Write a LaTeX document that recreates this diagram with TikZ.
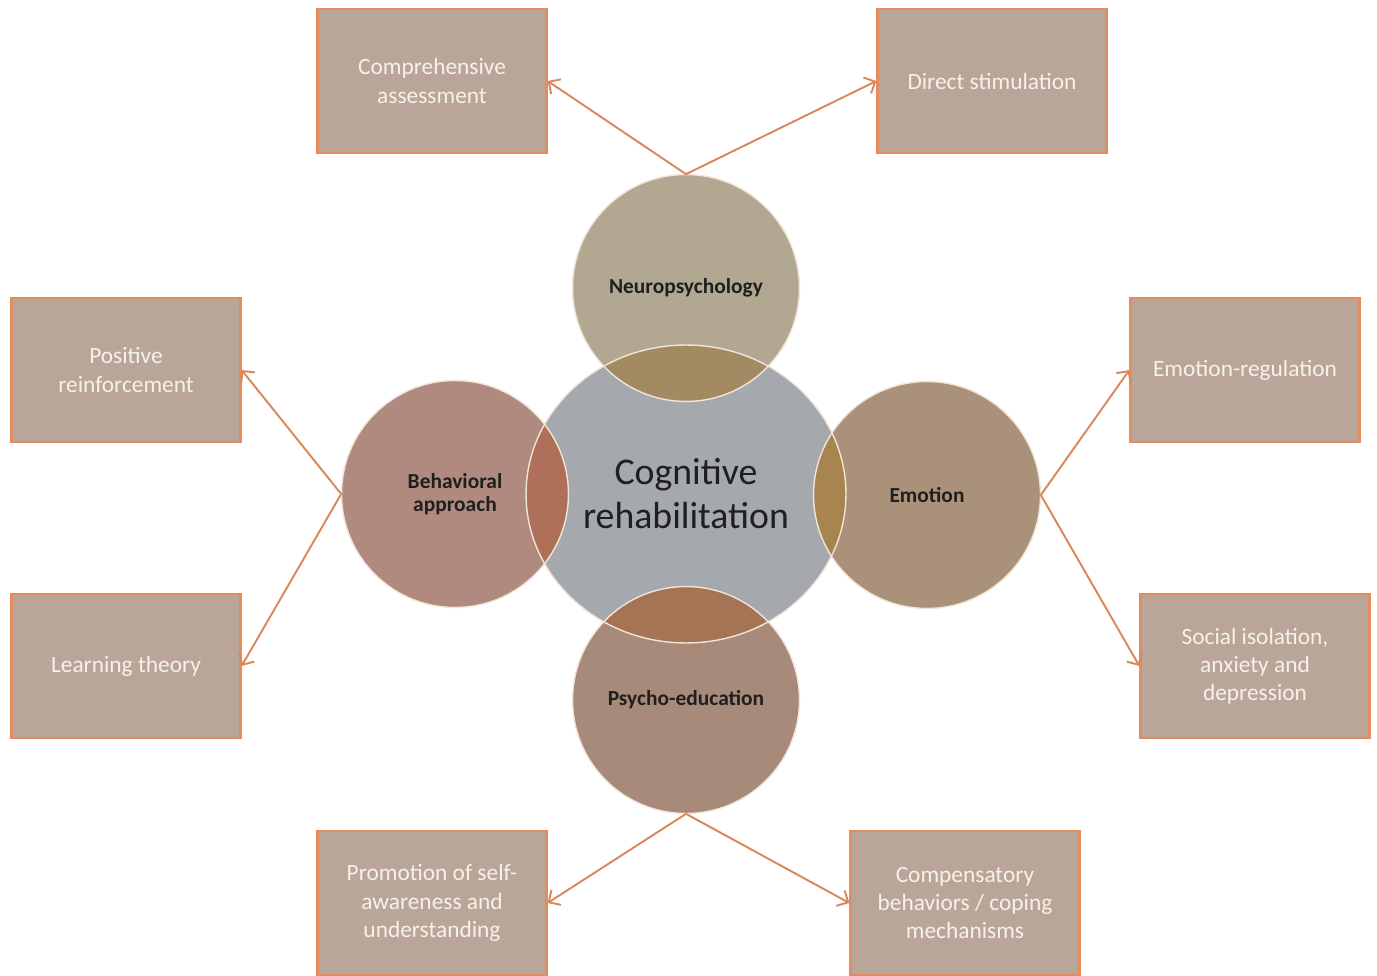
\documentclass[tikz,border=0pt]{standalone}
\usepackage{fontspec}
\setmainfont{Carlito}
\usetikzlibrary{positioning, arrows.meta, shapes.geometric}

\definecolor{boxfill}{HTML}{B9A698}
\definecolor{boxedge}{HTML}{E28C5F}
\definecolor{linkcol}{HTML}{DA875A}
\definecolor{leaftext}{HTML}{F7F1EC}
\definecolor{corecol}{HTML}{A5A8AD}
\definecolor{neurocol}{HTML}{B2A892}
\definecolor{neurolens}{HTML}{A38A62}
\definecolor{behavcol}{HTML}{B08A7E}
\definecolor{behavlens}{HTML}{AE7058}
\definecolor{emocol}{HTML}{AA927A}
\definecolor{emolens}{HTML}{A8844F}
\definecolor{psychcol}{HTML}{A88A7A}
\definecolor{psychlens}{HTML}{A57455}
\definecolor{ringcol}{HTML}{F2E4D8}

\begin{document}
\begin{tikzpicture}[x=0.02cm, y=-0.02cm]
  \tikzstyle{leaf}=[draw=boxedge, line width=1.3pt, fill=boxfill, minimum width=4.58cm, minimum height=2.88cm, align=center, text=leaftext, font=\fontsize{13.3}{16}\selectfont]
  \tikzstyle{topic}=[circle, minimum size=4.54cm, inner sep=0, align=center, text=black!88, font=\bfseries\fontsize{12.2}{13}\selectfont]
  \tikzstyle{ring}=[draw=ringcol, line width=0.8pt]
  \tikzstyle{link}=[draw=linkcol, line width=1.1pt, -{Straight Barb[length=5pt, width=10pt]}]

  \useasboundingbox (0, 0) rectangle (1377, 976);

  % centre and the four topics
  \node [ellipse, fill=corecol, minimum width=6.4cm, minimum height=5.96cm, inner sep=0, align=center, text=black!88, font=\fontsize{21.5}{25}\selectfont] (core) at (686, 494) {Cognitive\\rehabilitation};
  \node [topic, fill=neurocol] (neuro) at (686, 288) {Neuropsychology};
  \node [topic, fill=behavcol] (behav) at (455, 494) {Behavioral\\approach};
  \node [topic, fill=emocol] (emo) at (927, 495) {Emotion};
  \node [topic, fill=psychcol] (psych) at (686, 700) {Psycho-education};

  % overlaps with the centre
  \begin{scope}
    \clip (core.center) ellipse [x radius=3.2cm, y radius=2.98cm];
    \fill [neurolens] (neuro.center) circle [radius=2.27cm];
    \fill [behavlens] (behav.center) circle [radius=2.27cm];
    \fill [emolens] (emo.center) circle [radius=2.27cm];
    \fill [psychlens] (psych.center) circle [radius=2.27cm];
  \end{scope}
  \draw [ring] (core.center) ellipse [x radius=3.2cm, y radius=2.98cm];
  \foreach \t in {neuro, behav, emo, psych}
    \draw [ring] (\t.center) circle [radius=2.27cm];

  % outer boxes
  \node [leaf] (assess) at (432, 81) {Comprehensive\\assessment};
  \node [leaf] (stim) at (992, 81) {Direct stimulation};
  \node [leaf] (reinf) at (126, 370) {Positive\\reinforcement};
  \node [leaf] (learn) at (126, 666) {Learning theory};
  \node [leaf] (emoreg) at (1245, 370) {Emotion-regulation};
  \node [leaf] (social) at (1255, 666) {Social isolation,\\anxiety and\\depression};
  \node [leaf] (aware) at (432, 903) {Promotion of self-\\awareness and\\understanding};
  \node [leaf] (coping) at (965, 903) {Compensatory\\behaviors / coping\\mechanisms};

  \draw [link] (neuro.north) -- (assess.east);
  \draw [link] (neuro.north) -- (stim.west);
  \draw [link] (behav.west) -- (reinf.east);
  \draw [link] (behav.west) -- (learn.east);
  \draw [link] (emo.east) -- (emoreg.west);
  \draw [link] (emo.east) -- (social.west);
  \draw [link] (psych.south) -- (aware.east);
  \draw [link] (psych.south) -- (coping.west);
\end{tikzpicture}
\end{document}
